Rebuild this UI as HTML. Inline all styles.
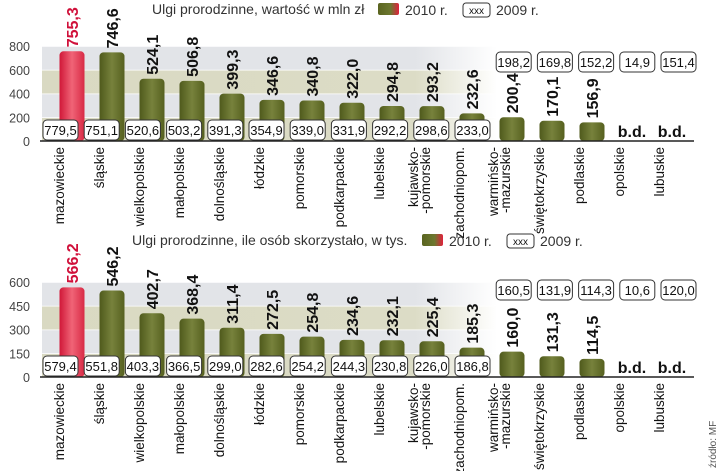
<!DOCTYPE html>
<html><head><meta charset="utf-8">
<style>
body{margin:0;background:#fff;}
svg{display:block;font-family:"Liberation Sans",sans-serif;}
.n{font-family:"Liberation Sans Narrow","Liberation Sans",sans-serif;}
</style></head>
<body>
<svg id="c" width="720" height="471" viewBox="0 0 720 471">
<defs>
<linearGradient id="og" x1="0" x2="1" y1="0" y2="0"><stop offset="0" stop-color="#4f5a1c"/><stop offset="0.5" stop-color="#77823c"/><stop offset="1" stop-color="#56601f"/></linearGradient>
<linearGradient id="rg" x1="0" x2="1" y1="0" y2="0"><stop offset="0" stop-color="#d01838"/><stop offset="0.5" stop-color="#f06477"/><stop offset="1" stop-color="#d82a45"/></linearGradient>
<linearGradient id="lg" x1="0" x2="1"><stop offset="0" stop-color="#5a6420"/><stop offset="0.6" stop-color="#6d7830"/><stop offset="1" stop-color="#e0203c"/></linearGradient>
<linearGradient id="fadeA" x1="0" x2="1"><stop offset="0" stop-color="#e2e4e8"/><stop offset="0.82" stop-color="#e2e4e8"/><stop offset="1" stop-color="#fff"/></linearGradient>
<linearGradient id="fadeB" x1="0" x2="1"><stop offset="0" stop-color="#d9d9c2"/><stop offset="0.82" stop-color="#dcdcc6"/><stop offset="1" stop-color="#fff"/></linearGradient>
</defs>
</svg>
<script>
const regions = ["mazowieckie","śląskie","wielkopolskie","małopolskie","dolnośląskie","łódzkie","pomorskie","podkarpackie","lubelskie","kujawsko-|-pomorskie","zachodniopom.","warmińsko-|-mazurskie","świętokrzyskie","podlaskie","opolskie","lubuskie"];
const value2010 = [755.3,746.6,524.1,506.8,399.3,346.6,340.8,322.0,294.8,293.2,232.6,200.4,170.1,156.9,null,null];
const value2009 = [779.5,751.1,520.6,503.2,391.3,354.9,339.0,331.9,292.2,298.6,233.0,198.2,169.8,152.2,14.9,151.4];
const people2010 = [566.2,546.2,402.7,368.4,311.4,272.5,254.8,234.6,232.1,225.4,185.3,160.0,131.3,114.5,null,null];
const people2009 = [579.4,551.8,403.3,366.5,299.0,282.6,254.2,244.3,230.8,226.0,186.8,160.5,131.9,114.3,10.6,120.0];
const ticksTop = [0,200,400,600,800];
const ticksBottom = [0,150,300,450,600];

const svg = document.getElementById('c');
const NS = 'http://www.w3.org/2000/svg';
function mk(tag, attrs, parent){const e=document.createElementNS(NS,tag);for(const k in attrs)e.setAttribute(k,attrs[k]);(parent||svg).appendChild(e);return e;}
function fmt(v){return v.toFixed(1).replace('.',',');}
function xc(i){return 72+40*i;}
function boxX(i){return 43+41.2*i;}

function panel(o){
  const g = mk('g',{});
  
  
  const y = v => o.base - v/o.max*(o.base-o.top);
  for(let k=0;k<o.ticks.length-1;k++){
    const y1=y(o.ticks[k+1]), y0=y(o.ticks[k]);
    const r = mk('rect',{x:42,y:y1,width:455,height:y0-y1,fill:(k%2===0)?'url(#fadeB)':'url(#fadeA)'},g);
    
    
    mk('line',{x1:42,x2:497,y1:y1,y2:y1,stroke:'#fff','stroke-width':1.5},g);
  }
  o.ticks.forEach(t=>{
    const tx = mk('text',{x:30,y:y(t)+5,'text-anchor':'end','font-size':12.5,fill:'#444'},g);
    tx.textContent=t;
    
    
  });
  o.cur.forEach((v,i)=>{
    const cx=xc(i);
    if(v===null){
      const t=mk('text',{x:cx,y:o.base-4,'text-anchor':'middle','font-size':16,'font-weight':'bold',fill:'#111',class:'n'},g);
      t.textContent='b.d.';
      
      
      return;
    }
    const yt=y(v);
    const b=mk('rect',{x:cx-12.5,y:yt,width:25,height:o.base-yt,rx:4,fill:i===0?'url(#rg)':'url(#og)'},g);
    
    
    const t=mk('text',{transform:`translate(${cx+6},${yt-4}) rotate(-90)`,'font-size':16,'font-weight':'bold',fill:i===0?'#d0103a':'#111',class:'n'},g);
    t.textContent=fmt(v);
    
    
  });
  o.prev.forEach((v,i)=>{
    const bx=boxX(i);
    const by = i<=10 ? o.base-21 : o.boxTop;
    const r=mk('rect',{x:bx,y:by,width:35,height:20,rx:4,fill:'#fff',stroke:'#333','stroke-width':1},g);
    
    
    const t=mk('text',{x:bx+17.5,y:by+15,'text-anchor':'middle','font-size':13,fill:'#111',class:'n'},g);
    t.textContent=fmt(v);
    
    
  });
  const bl=mk('line',{x1:40,x2:694,y1:o.base,y2:o.base,stroke:'#222','stroke-width':1.5},g);
  
  
  regions.forEach((r,i)=>{
    const parts=r.split('|');
    parts.forEach((p,j)=>{
      const lx = xc(i)-8 - (parts.length-1-j)*12 + (parts.length>1?6:0);
      const t=mk('text',{transform:`translate(${lx},${o.base+6}) rotate(-90)`,'text-anchor':'end','font-size':13.5,fill:'#111'},g);
      t.textContent=p;
      
      
    });
  });
  const tt=mk('text',{x:o.titleX,y:o.titleY,'font-size':14,fill:'#333'},g);
  tt.textContent=o.title;
  
  
  const sw=mk('rect',{x:o.legX,y:o.titleY-11,width:21,height:12,rx:2,fill:'url(#lg)'},g);
  
  
  const l1=mk('text',{x:o.legX+27,y:o.titleY+1,'font-size':14,fill:'#333'},g);
  l1.textContent='2010 r.';
  
  
  const lb=mk('rect',{x:o.legX+85,y:o.titleY-11,width:27,height:14,rx:3,fill:'#fff',stroke:'#333'},g);
  
  
  const lx=mk('text',{x:o.legX+98.5,y:o.titleY,'text-anchor':'middle','font-size':10,fill:'#111'},g);
  lx.textContent='xxx';
  
  
  const l2=mk('text',{x:o.legX+118,y:o.titleY+1,'font-size':14,fill:'#333'},g);
  l2.textContent='2009 r.';
  
  
}

panel({name:'value-panel',cur:value2010,prev:value2009,ticks:ticksTop,max:800,base:141,top:46,boxTop:52,
  title:'Ulgi prorodzinne,  wartość w mln zł',titleX:152,titleY:14,legX:378});
panel({name:'people-panel',cur:people2010,prev:people2009,ticks:ticksBottom,max:600,base:377,top:282,boxTop:280,
  title:'Ulgi prorodzinne,  ile osób skorzystało, w tys.',titleX:132,titleY:245,legX:422});

const src=mk('text',{transform:'translate(716,468) rotate(-90)','font-size':10,fill:'#555'});
src.textContent='źródło: MF';


</script>
</body></html>
